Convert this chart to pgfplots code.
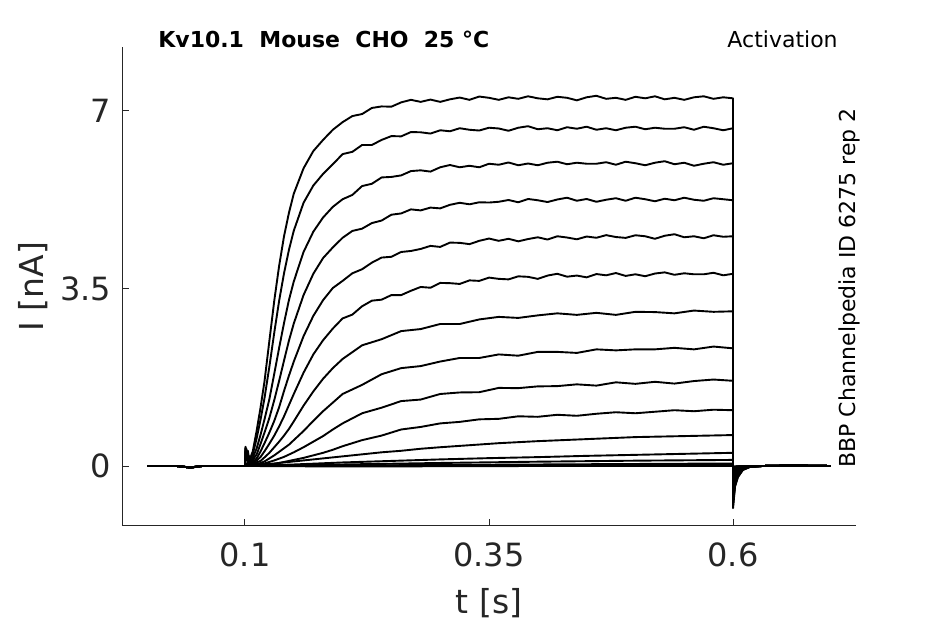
\documentclass[border=0pt]{standalone}
\usepackage{pgfplots}
\pgfplotsset{compat=1.18}
\usepackage{fontspec}
\setmainfont{DejaVu Sans}
\definecolor{axgray}{RGB}{38,38,38}
\begin{document}
\begin{tikzpicture}
\path[use as bounding box] (0,0) rectangle (472.5pt,312pt);
\begin{axis}[
 at={(61pt,49pt)}, anchor=south west,
 scale only axis, width=367pt, height=239.5pt,
 xmin=-0.026, xmax=0.726, ymin=-1.183, ymax=8.262,
 axis x line*=bottom, axis y line*=left,
 axis line style={axgray, line width=0.5pt, -},
 xtick={0.1,0.35,0.6}, xticklabels={0.1,0.35,0.6},
 ytick={0,3.5,7}, yticklabels={0,3.5,7},
 tick align=inside, major tick length=3.5pt,
 tick style={axgray, line width=0.5pt},
 ticklabel style={font=\fontsize{16}{19}\selectfont, text=axgray},
 /pgf/number format/assume math mode=true,
 xticklabel style={yshift=-5pt},
 yticklabel style={xshift=-2pt},
 xlabel={t [s]}, ylabel={I [nA]},
 label style={font=\fontsize{16.5}{20}\selectfont, text=axgray},
 xlabel style={at={(axis description cs:0.5,-0.1608)}, anchor=center},
 ylabel style={at={(axis description cs:-0.1213,0.5)}, anchor=center},
 clip=false,
 cycle list={{black,solid,mark=none}},
 every axis plot/.append style={line width=0.95pt, line join=round},
]
% T1
\addplot coordinates {(0,0)(0.03,0)(0.044,-0.03)(0.056,0)(0.1,0)
(0.102,0.04)(0.105,0.14)(0.108,0.29)(0.112,0.70)(0.116,1.16)(0.12,1.67)(0.125,2.47)(0.13,3.26)(0.135,3.95)(0.14,4.53)(0.145,4.99)(0.15,5.37)(0.16,5.87)(0.17,6.21)(0.18,6.43)(0.19,6.63)
(0.20,6.78)(0.21,6.90)(0.22,6.94)(0.23,7.06)(0.24,7.09)(0.25,7.085)(0.26,7.17)(0.27,7.22)(0.28,7.18)(0.29,7.225)(0.30,7.18)(0.31,7.23)(0.32,7.265)(0.33,7.22)(0.34,7.285)(0.35,7.26)(0.36,7.22)(0.37,7.27)(0.38,7.24)(0.39,7.29)(0.40,7.25)(0.41,7.23)(0.42,7.28)(0.43,7.26)(0.44,7.21)(0.45,7.27)(0.46,7.30)(0.47,7.24)(0.48,7.26)(0.49,7.22)(0.50,7.28)(0.51,7.25)(0.52,7.29)(0.53,7.23)(0.54,7.26)(0.55,7.22)(0.56,7.27)(0.57,7.29)(0.58,7.24)(0.59,7.27)(0.60,7.25)
(0.6,-0.83)(0.602,-0.41)(0.605,-0.22)(0.61,-0.08)(0.617,-0.02)(0.63,0)(0.66,0.01)(0.7,0)};
% T2
\addplot coordinates {(0,0)(0.03,0)(0.044,-0.03)(0.056,0)(0.1,0)
(0.102,0.04)(0.105,0.11)(0.108,0.23)(0.112,0.55)(0.116,0.92)(0.12,1.34)(0.125,1.96)(0.13,2.63)(0.135,3.26)(0.14,3.80)(0.145,4.26)(0.15,4.64)(0.16,5.19)(0.17,5.53)(0.18,5.76)(0.19,5.95)
(0.20,6.15)(0.21,6.195)(0.22,6.33)(0.23,6.33)(0.24,6.43)(0.25,6.505)(0.26,6.50)(0.27,6.585)(0.28,6.58)(0.29,6.555)(0.30,6.62)(0.31,6.60)(0.32,6.66)(0.33,6.63)(0.34,6.615)(0.35,6.67)(0.36,6.655)(0.37,6.61)(0.38,6.67)(0.39,6.70)(0.40,6.64)(0.41,6.66)(0.42,6.62)(0.43,6.68)(0.44,6.65)(0.45,6.69)(0.46,6.63)(0.47,6.66)(0.48,6.62)(0.49,6.67)(0.50,6.69)(0.51,6.64)(0.52,6.67)(0.53,6.65)(0.54,6.65)(0.55,6.68)(0.56,6.63)(0.57,6.69)(0.58,6.66)(0.59,6.62)(0.60,6.66)
(0.6,-0.78)(0.602,-0.39)(0.605,-0.21)(0.61,-0.075)(0.617,-0.02)(0.63,0)(0.66,0.01)(0.7,0)};
% T3
\addplot coordinates {(0,0)(0.03,0)(0.044,-0.03)(0.056,0)(0.1,0)
(0.102,0.03)(0.105,0.07)(0.108,0.16)(0.112,0.35)(0.116,0.62)(0.12,0.92)(0.125,1.32)(0.13,1.82)(0.135,2.33)(0.14,2.82)(0.145,3.27)(0.15,3.64)(0.16,4.22)(0.17,4.62)(0.18,4.90)(0.19,5.11)
(0.20,5.26)(0.21,5.345)(0.22,5.52)(0.23,5.565)(0.24,5.69)(0.25,5.70)(0.26,5.73)(0.27,5.815)(0.28,5.83)(0.29,5.805)(0.30,5.89)(0.31,5.935)(0.32,5.89)(0.33,5.92)(0.34,5.89)(0.35,5.96)(0.36,5.94)(0.37,5.985)(0.38,5.93)(0.39,5.965)(0.40,5.93)(0.41,5.98)(0.42,6.00)(0.43,5.95)(0.44,5.98)(0.45,5.96)(0.46,5.96)(0.47,5.99)(0.48,5.94)(0.49,6.00)(0.50,5.97)(0.51,5.93)(0.52,5.98)(0.53,6.01)(0.54,5.95)(0.55,5.98)(0.56,5.92)(0.57,5.96)(0.58,5.99)(0.59,5.94)(0.60,5.97)
(0.6,-0.72)(0.602,-0.36)(0.605,-0.19)(0.61,-0.07)(0.617,-0.02)(0.63,0)(0.66,0.01)(0.7,0)};
% T4
\addplot coordinates {(0,0)(0.03,0)(0.044,-0.03)(0.056,0)(0.1,0)
(0.102,0.02)(0.105,0.05)(0.108,0.12)(0.112,0.23)(0.116,0.44)(0.12,0.66)(0.125,0.95)(0.13,1.30)(0.135,1.68)(0.14,2.08)(0.145,2.47)(0.15,2.81)(0.16,3.37)(0.17,3.79)(0.18,4.10)(0.19,4.31)
(0.20,4.50)(0.21,4.635)(0.22,4.68)(0.23,4.79)(0.24,4.84)(0.25,4.955)(0.26,4.98)(0.27,5.06)(0.28,5.04)(0.29,5.095)(0.30,5.08)(0.31,5.15)(0.32,5.19)(0.33,5.16)(0.34,5.20)(0.35,5.195)(0.36,5.21)(0.37,5.245)(0.38,5.20)(0.39,5.265)(0.40,5.24)(0.41,5.205)(0.42,5.255)(0.43,5.29)(0.44,5.23)(0.45,5.265)(0.46,5.21)(0.47,5.25)(0.48,5.28)(0.49,5.23)(0.50,5.29)(0.51,5.26)(0.52,5.22)(0.53,5.27)(0.54,5.24)(0.55,5.29)(0.56,5.25)(0.57,5.23)(0.58,5.28)(0.59,5.26)(0.60,5.24)
(0.6,-0.66)(0.602,-0.33)(0.605,-0.18)(0.61,-0.064)(0.617,-0.016)(0.63,0)(0.66,0.01)(0.7,0)};
% T5
\addplot coordinates {(0,0)(0.03,0)(0.044,-0.03)(0.056,0)(0.1,0)
(0.102,0.02)(0.105,0.04)(0.108,0.08)(0.112,0.15)(0.116,0.29)(0.12,0.45)(0.125,0.66)(0.13,0.89)(0.135,1.16)(0.14,1.48)(0.145,1.78)(0.15,2.06)(0.16,2.56)(0.17,2.96)(0.18,3.27)(0.19,3.51)
(0.20,3.65)(0.21,3.80)(0.22,3.88)(0.23,4.01)(0.24,4.11)(0.25,4.125)(0.26,4.22)(0.27,4.24)(0.28,4.28)(0.29,4.34)(0.30,4.32)(0.31,4.405)(0.32,4.40)(0.33,4.375)(0.34,4.44)(0.35,4.485)(0.36,4.44)(0.37,4.48)(0.38,4.43)(0.39,4.475)(0.40,4.51)(0.41,4.465)(0.42,4.53)(0.43,4.505)(0.44,4.47)(0.45,4.525)(0.46,4.50)(0.47,4.552)(0.48,4.515)(0.49,4.498)(0.50,4.55)(0.51,4.53)(0.52,4.48)(0.53,4.54)(0.54,4.57)(0.55,4.51)(0.56,4.53)(0.57,4.49)(0.58,4.55)(0.59,4.52)(0.60,4.53)
(0.6,-0.60)(0.602,-0.29)(0.605,-0.16)(0.61,-0.057)(0.617,-0.014)(0.63,0)(0.66,0.01)(0.7,0)};
% T6
\addplot coordinates {(0,0)(0.03,0)(0.044,-0.03)(0.056,0)(0.1,0)
(0.102,0.01)(0.105,0.03)(0.108,0.05)(0.112,0.11)(0.116,0.18)(0.12,0.29)(0.125,0.44)(0.13,0.60)(0.135,0.78)(0.14,0.98)(0.145,1.20)(0.15,1.42)(0.16,1.84)(0.17,2.20)(0.18,2.48)(0.19,2.71)
(0.20,2.91)(0.21,2.985)(0.22,3.15)(0.23,3.26)(0.24,3.28)(0.25,3.37)(0.26,3.37)(0.27,3.455)(0.28,3.53)(0.29,3.515)(0.30,3.61)(0.31,3.605)(0.32,3.59)(0.33,3.66)(0.34,3.65)(0.35,3.715)(0.36,3.69)(0.37,3.68)(0.38,3.74)(0.39,3.73)(0.40,3.69)(0.41,3.755)(0.42,3.79)(0.43,3.733)(0.44,3.755)(0.45,3.72)(0.46,3.785)(0.47,3.76)(0.48,3.805)(0.49,3.748)(0.50,3.78)(0.51,3.742)(0.52,3.795)(0.53,3.818)(0.54,3.77)(0.55,3.80)(0.56,3.78)(0.57,3.78)(0.58,3.81)(0.59,3.76)(0.60,3.79)
(0.6,-0.53)(0.602,-0.26)(0.605,-0.14)(0.61,-0.05)(0.617,-0.013)(0.63,0)(0.66,0.01)(0.7,0)};
% T7
\addplot coordinates {(0,0)(0.03,0)(0.044,-0.03)(0.056,0)(0.1,0)
(0.105,0.02)(0.108,0.03)(0.112,0.07)(0.116,0.10)(0.12,0.17)(0.125,0.26)(0.13,0.37)(0.135,0.48)(0.14,0.60)(0.145,0.73)(0.15,0.88)(0.16,1.19)(0.17,1.47)(0.18,1.72)(0.19,1.93)
(0.20,2.11)(0.22,2.38)(0.24,2.50)(0.26,2.66)(0.28,2.70)(0.30,2.80)(0.32,2.80)(0.34,2.89)(0.36,2.94)(0.38,2.92)(0.40,2.97)(0.42,3.01)(0.44,2.98)(0.46,3.02)(0.48,2.98)(0.50,3.04)(0.52,3.035)(0.54,3.01)(0.56,3.065)(0.58,3.04)(0.60,3.05)
(0.6,-0.45)(0.602,-0.22)(0.605,-0.12)(0.61,-0.044)(0.617,-0.011)(0.63,0)(0.66,0.01)(0.7,0)};
% T8
\addplot coordinates {(0,0)(0.03,0)(0.044,-0.03)(0.056,0)(0.1,0)
(0.105,0.01)(0.108,0.02)(0.112,0.04)(0.116,0.06)(0.12,0.09)(0.125,0.15)(0.13,0.21)(0.135,0.28)(0.14,0.35)(0.145,0.42)(0.15,0.51)(0.16,0.69)(0.17,0.89)(0.18,1.08)(0.19,1.25)
(0.20,1.42)(0.22,1.60)(0.24,1.81)(0.26,1.93)(0.28,1.97)(0.30,2.06)(0.32,2.13)(0.34,2.13)(0.36,2.20)(0.38,2.175)(0.40,2.25)(0.42,2.25)(0.44,2.23)(0.46,2.30)(0.48,2.28)(0.50,2.30)(0.52,2.30)(0.54,2.33)(0.56,2.30)(0.58,2.355)(0.60,2.32)
(0.6,-0.38)(0.602,-0.19)(0.605,-0.10)(0.61,-0.036)(0.617,-0.009)(0.63,0)(0.66,0.01)(0.7,0)};
% T9
\addplot coordinates {(0,0)(0.03,0)(0.044,-0.03)(0.056,0)(0.1,0)
(0.105,0.01)(0.112,0.02)(0.12,0.05)(0.13,0.11)(0.14,0.18)(0.15,0.27)(0.16,0.37)(0.17,0.48)(0.18,0.59)(0.19,0.72)
(0.20,0.84)(0.22,1.04)(0.24,1.15)(0.26,1.28)(0.28,1.31)(0.30,1.42)(0.32,1.45)(0.34,1.455)(0.36,1.54)(0.38,1.535)(0.40,1.57)(0.42,1.575)(0.44,1.61)(0.46,1.585)(0.48,1.65)(0.50,1.62)(0.52,1.66)(0.54,1.625)(0.56,1.675)(0.58,1.705)(0.60,1.68)
(0.6,-0.30)(0.602,-0.15)(0.605,-0.08)(0.61,-0.029)(0.617,-0.007)(0.63,0)(0.66,0.01)(0.7,0)};
% T10
\addplot coordinates {(0,0)(0.03,0)(0.044,-0.03)(0.056,0)(0.1,0)
(0.11,0.01)(0.12,0.02)(0.13,0.04)(0.14,0.08)(0.15,0.12)(0.16,0.16)(0.17,0.21)(0.18,0.26)(0.19,0.32)
(0.20,0.39)(0.22,0.51)(0.24,0.60)(0.26,0.72)(0.28,0.77)(0.30,0.84)(0.32,0.87)(0.34,0.92)(0.36,0.93)(0.38,0.98)(0.40,0.97)(0.42,1.01)(0.44,0.99)(0.46,1.03)(0.48,1.06)(0.50,1.04)(0.52,1.07)(0.54,1.10)(0.56,1.08)(0.58,1.11)(0.60,1.10)
(0.6,-0.22)(0.602,-0.11)(0.605,-0.06)(0.61,-0.02)(0.617,-0.005)(0.63,0)(0.66,0.01)(0.7,0)};
% T11
\addplot coordinates {(0,0)(0.03,0)(0.044,-0.03)(0.056,0)(0.1,0)
(0.11,0.01)(0.12,0.03)(0.14,0.07)(0.16,0.11)(0.18,0.15)(0.2,0.19)(0.22,0.23)(0.24,0.27)(0.26,0.30)(0.28,0.34)(0.3,0.37)(0.33,0.41)(0.36,0.45)(0.4,0.49)(0.45,0.53)(0.5,0.57)(0.55,0.59)(0.6,0.61)
(0.6,-0.15)(0.602,-0.07)(0.605,-0.04)(0.61,-0.014)(0.617,0)(0.63,0)(0.66,0.01)(0.7,0)};
% T12
\addplot coordinates {(0,0)(0.03,0)(0.044,-0.03)(0.056,0)(0.1,0)
(0.12,0.01)(0.15,0.03)(0.2,0.07)(0.25,0.10)(0.3,0.13)(0.35,0.155)(0.4,0.175)(0.45,0.2)(0.5,0.22)(0.55,0.24)(0.6,0.26)
(0.6,-0.08)(0.602,-0.04)(0.605,-0.02)(0.61,-0.008)(0.617,0)(0.63,0)(0.66,0.01)(0.7,0)};
% T13
\addplot coordinates {(0,0)(0.03,0)(0.044,-0.03)(0.056,0)(0.1,0)
(0.1005,0.30)(0.101,0.2)(0.1015,0.34)(0.103,0.1)(0.105,0.05)(0.11,0.01)(0.15,0.01)(0.2,0.03)(0.3,0.06)(0.4,0.085)(0.5,0.105)(0.6,0.12)
(0.6,-0.04)(0.602,-0.02)(0.605,-0.01)(0.61,0)(0.63,0)(0.66,0.01)(0.7,0)};
% T14
\addplot coordinates {(0,0)(0.03,0)(0.044,-0.03)(0.056,0)(0.1,0)
(0.1005,0.38)(0.102,0.25)(0.104,0.15)(0.106,0.05)(0.11,0.02)(0.2,0.01)(0.4,0.03)(0.6,0.05)
(0.6,-0.02)(0.602,-0.01)(0.61,0)(0.63,0)(0.66,0.01)(0.7,0)};
% T15
\addplot coordinates {(0,0)(0.03,0)(0.044,-0.03)(0.056,0)(0.1,0)
(0.1005,0.3)(0.101,0.1)(0.103,0.3)(0.105,0.02)(0.11,0.0)(0.3,0.01)(0.6,0.02)
(0.6,-0.02)(0.602,-0.01)(0.61,0)(0.63,0)(0.66,0.01)(0.7,0)};
% T16
\addplot coordinates {(0,0)(0.03,0)(0.044,-0.03)(0.056,0)(0.1,0)
(0.1005,0.36)(0.102,0.12)(0.104,0.2)(0.106,0.0)(0.2,-0.01)(0.4,0.0)(0.6,0.0)
(0.6,-0.02)(0.61,0)(0.63,0)(0.7,0)};

\node[anchor=west, inner sep=0pt, font=\bfseries\fontsize{11}{13}\selectfont, text=black] at (axis description cs:0.049,1.0167) {Kv10.1\ \ Mouse\ \ CHO\ \ 25 °C};
\node[anchor=east, inner sep=0pt, font=\fontsize{11}{13}\selectfont, text=black] at (axis description cs:0.9755,1.0167) {Activation};
\node[anchor=west, rotate=90, inner sep=0pt, font=\fontsize{11}{13}\selectfont, text=black] at (axis description cs:0.9905,0.121) {BBP Channelpedia ID 6275 rep 2};
\end{axis}
\end{tikzpicture}
\end{document}
